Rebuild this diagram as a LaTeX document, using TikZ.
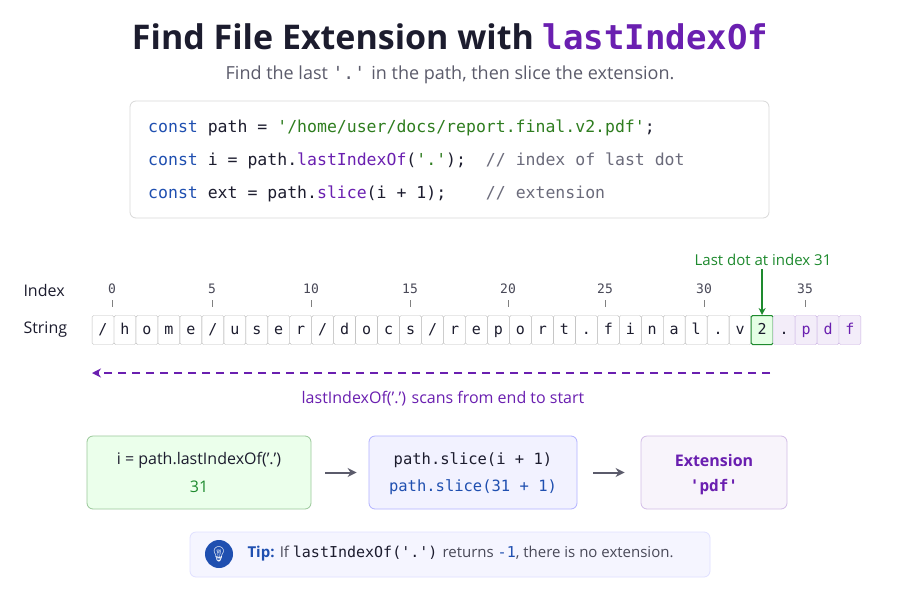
\documentclass[tikz,border=0pt]{standalone}
\usepackage{fontspec}
\setmainfont{Open Sans}
\newfontfamily\mono{DejaVu Sans Mono}
\newfontfamily\emo{Noto Emoji}
\usetikzlibrary{arrows.meta}
\definecolor{kw}{HTML}{1F4FB0}
\definecolor{strg}{HTML}{2E7D1F}
\definecolor{pur}{HTML}{6A1FB0}
\definecolor{grn}{HTML}{1E8A2E}
\definecolor{txt}{HTML}{1C1C2E}
\definecolor{gry}{HTML}{5B5B6B}
\definecolor{cmt}{HTML}{6B6B7B}
\newcommand{\q}{\char39\relax}
\begin{document}
\begin{tikzpicture}[x=1pt,y=-1pt,
  cell/.style={draw=#1,rounded corners=1.5pt,minimum width=21.9pt,minimum height=29pt,inner sep=0pt,text height=10.5pt,text depth=2.5pt,font=\mono\fontsize{15}{15}\selectfont,text=txt},
  cell/.default={black!25},
  tick/.style={font=\mono\fontsize{13}{13}\selectfont,text=txt!80},
  card/.style={rounded corners=6pt,line width=0.8pt,align=center},
  flow/.style={-{Stealth[length=9pt,width=9pt]},line width=2pt,draw=gry}]
\fill[white!97!blue!2] (0,0) rectangle (900,600);
\useasboundingbox (0,0) rectangle (900,600);
% title
\node (title) at (450,37) {\fontsize{34}{36}\selectfont\bfseries\color{txt}Find File Extension with {\mono\color{pur}lastIndexOf}};
\node (sub) at (450,75) {\fontsize{18}{20}\selectfont\color{gry}Find the last {\mono\q.\q} in the path, then slice the extension.};
% code
\node[card,draw=black!15,fill=white,minimum width=639pt,minimum height=117pt] (code) at (449.5,159.5) {};
\begin{scope}[every node/.style={anchor=west,inner sep=0pt,font=\mono\fontsize{16.5}{17}\selectfont,text=txt}]
\node (l1) at (148,128) {{\color{kw}const} path = {\color{strg}'/home/user/docs/report.final.v2.pdf'};};
\node (l2) at (148,161) {{\color{kw}const} i = path.{\color{pur}lastIndexOf}({\color{strg}'.'});\ \ {\color{cmt}// index of last dot}};
\node (l3) at (148,194) {{\color{kw}const} ext = path.{\color{pur}slice}(i + 1);\ \ \ \ {\color{cmt}// extension}};
\end{scope}
% labels
\node[anchor=west,font=\fontsize{16}{16}\selectfont,text=txt] (idx) at (20,290) {Index};
\node[anchor=west,font=\fontsize{16}{16}\selectfont,text=txt] (strl) at (20,330) {String};
% cells
\foreach \c [count=\i from 0] in {/,h,o,m,e,/,u,s,e,r,/,d,o,c,s,/,r,e,p,o,r,t,.,f,i,n,a,l,.,v}{
  \node[cell] (c\i) at ({103+\i*21.97},330) {\c};
}
\node[cell=grn,fill=green!10,line width=1pt] (c30) at ({103+30*21.97},330) {2};
\node[cell=pur!25,fill=pur!8] (c31) at ({103+31*21.97},330) {.};
\node[cell=pur!35,fill=pur!8,text=pur] (c32) at ({103+32*21.97},330) {p};
\node[cell=pur!35,fill=pur!8,text=pur] (c33) at ({103+33*21.97},330) {d};
\node[cell=pur!35,fill=pur!8,text=pur] (c34) at ({103+34*21.97},330) {f};
% ticks
\foreach \n/\x in {0/112,5/212,10/311,15/410,20/508,25/605,30/704,35/805}{
  \node[tick] (t\n) at (\x,289) {\n};
  \draw[black!50,line width=0.6pt] (\x,300) -- (\x,307);
}
\node[font=\fontsize{15}{15}\selectfont,text=grn] (last) at (763,260) {Last dot at index 31};
\draw[-{Stealth[length=7pt,width=7pt]},grn,line width=1.4pt] (last.south -| c30) -- (c30.north);
% scan
\coordinate (sa) at (770,373);
\coordinate (sb) at (92,373);
\draw[-{Stealth[length=9pt,width=9pt]},pur,line width=1.6pt,dash pattern=on 8pt off 6pt] (sa) -- (sb);
\node[font=\fontsize{16}{16}\selectfont,text=pur] (scan) at (443,399) {lastIndexOf(\q.\q) scans from end to start};
% flow cards
\node[card,draw=green!45!black!40,fill=green!8,minimum width=224pt,minimum height=73pt] (b1) at (199,472.5) {};
\node[font=\fontsize{16}{18}\selectfont,text=txt] at (199,460) {i = path.lastIndexOf(\q.\q)};
\node[font=\fontsize{16}{18}\selectfont,text=grn] at (199,487) {31};
\node[card,draw=blue!30,fill=blue!5,minimum width=208pt,minimum height=73pt] (b2) at (473,472.5) {};
\node[font=\mono\fontsize{15.5}{18}\selectfont,text=txt] at (473,460) {path.slice(i + 1)};
\node[font=\mono\fontsize{15.5}{18}\selectfont,text=kw] at (473,487) {path.slice(31 + 1)};
\node[card,draw=pur!30,fill=pur!5,minimum width=146pt,minimum height=73pt] (b3) at (714,472.5) {};
\node[font=\fontsize{16}{18}\selectfont\bfseries,text=pur] at (714,460) {Extension};
\node[font=\mono\fontsize{16}{18}\selectfont\bfseries,text=pur] at (714,487) {'pdf'};
\draw[flow] ([xshift=14pt]b1.east) -- ([xshift=-12pt]b2.west);
\draw[flow] ([xshift=16pt]b2.east) -- ([xshift=-16pt]b3.west);
% tip
\node[card,draw=blue!12,fill=blue!4,minimum width=520pt,minimum height=45pt] (tip) at (450,554.5) {};
\fill[kw] (219,554) circle (14);
\node[text=white,font=\emo\fontsize{15}{15}\selectfont] (bulb) at (219,554) {\symbol{"1F4A1}};
\node[anchor=west,font=\fontsize{15}{15}\selectfont,text=txt!80] (tipt) at (244,554) {{\bfseries\color{kw}Tip:} If {\mono\color{txt}lastIndexOf('.')} returns {\color{kw}\mono-1}, there is no extension.};
\end{tikzpicture}
\end{document}
